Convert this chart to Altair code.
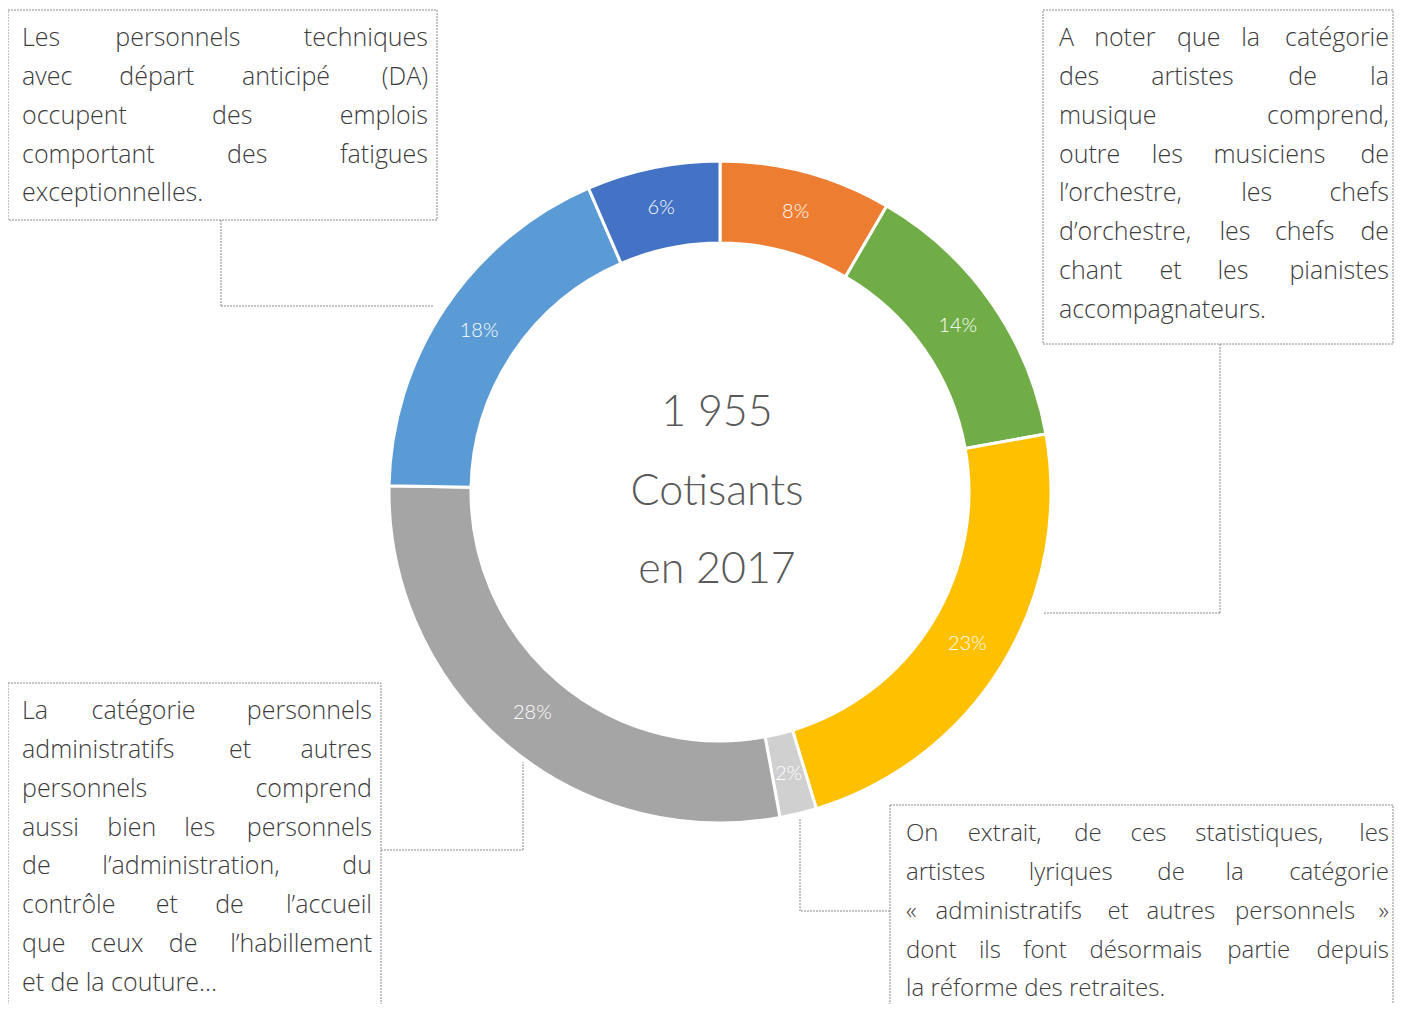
import altair as alt
import pandas as pd

# ---------------- data ----------------
categories = [
    "Artistes de la musique",
    "Artistes des chœurs",
    "Artistes de la danse",
    "Artistes lyriques",
    "Administratifs et autres personnels",
    "Personnels techniques",
    "Personnels techniques (DA)",
]
shares = [8.4, 13.8, 23.1, 1.8, 28.2, 18.2, 6.5]
share_labels = ["8%", "14%", "23%", "2%", "28%", "18%", "6%"]
colors = ["#ED7D31", "#70AD47", "#FFC000", "#D0D0D0", "#A5A5A5", "#5B9BD5", "#4472C4"]

center_lines = ["1 955", "Cotisants", "en 2017"]

note_tl = ["Les personnels techniques", "avec départ anticipé (DA)", "occupent des emplois",
           "comportant des fatigues", "exceptionnelles."]
note_tr = ["A noter que la catégorie", "des artistes de la", "musique comprend,",
           "outre les musiciens de", "l’orchestre, les chefs", "d’orchestre, les chefs de",
           "chant et les pianistes", "accompagnateurs."]
note_bl = ["La catégorie personnels", "administratifs et autres", "personnels comprend",
           "aussi bien les personnels", "de l’administration, du", "contrôle et de l’accueil",
           "que ceux de l’habillement", "et de la couture..."]
note_br = ["On extrait, de ces statistiques, les", "artistes lyriques de la catégorie",
           "« administratifs et autres personnels »", "dont ils font désormais partie depuis",
           "la réforme des retraites."]

# ---------------- layout (pixels, chart coordinates) ----------------
W, H = 1386, 996
CX, CY = 712, 484
R_OUT, R_IN, R_LBL = 331, 249, 290
FONT = "Lato"
NOTE_FONT = "Open Sans"
TXT = "#3c3c3c"
LH = 38.85

# note blocks: (lines, left, right, first baseline, font size)
blocks = [
    (note_tl, 14, 420, 38, 25),
    (note_tr, 1051, 1381, 38, 25),
    (note_bl, 14, 364, 711, 25),
    (note_br, 898, 1381, 833, 24),
]
boxes = pd.DataFrame({
    "x": [0, 1035, 0, 882],
    "x2": [429, 1385, 373, 1385],
    "y": [2, 2, 675, 797],
    "y2": [212, 336, 1030, 1030],
})
# connector segments
segs = pd.DataFrame({
    "x": [213, 213, 1212, 1212, 373, 515, 882, 792],
    "y": [212, 298, 336, 605, 842, 842, 903, 903],
    "x2": [213, 425, 1212, 1036, 515, 515, 792, 792],
    "y2": [298, 298, 605, 605, 842, 754, 903, 810],
})

# rough glyph widths (em) for Open Sans
CW = {" ": 0.26, "a": 0.556, "b": 0.613, "c": 0.48, "d": 0.613, "e": 0.561, "é": 0.561,
      "f": 0.336, "g": 0.546, "h": 0.614, "i": 0.258, "j": 0.258, "k": 0.525, "l": 0.258,
      "m": 0.932, "n": 0.614, "o": 0.602, "ô": 0.602, "p": 0.613, "q": 0.613, "r": 0.409,
      "s": 0.477, "t": 0.353, "u": 0.614, "v": 0.5, "w": 0.786, "x": 0.524, "y": 0.501,
      "z": 0.463, ".": 0.267, ",": 0.249, "’": 0.165, "(": 0.296, ")": 0.296, "«": 0.52,
      "»": 0.52, "A": 0.633, "D": 0.73, "L": 0.519, "O": 0.779}


def est(word, size):
    return sum(CW.get(c, 0.6) for c in word) * size


rows = []
for lines, L, R, b0, fs in blocks:
    for i, line in enumerate(lines):
        y = b0 + i * LH
        words = line.split(" ")
        if i == len(lines) - 1 or len(words) == 1:
            rows.append({"x": L, "y": y, "t": line, "a": "l", "fs": fs})
            continue
        total = sum(est(w, fs) for w in words)
        gap = (R - L - total) / (len(words) - 1)
        x = L
        for j, w in enumerate(words):
            if j == len(words) - 1:
                rows.append({"x": R, "y": y, "t": w, "a": "r", "fs": fs})
            else:
                rows.append({"x": x, "y": y, "t": w, "a": "l", "fs": fs})
            x += est(w, fs) + gap

words_df = pd.DataFrame(rows)

pie_df = pd.DataFrame({
    "cat": categories, "share": shares, "label": share_labels,
    "idx": list(range(len(categories))),
})
center_df = pd.DataFrame({"t": center_lines, "row": [0, 1, 2]})

X = lambda f: alt.X(f, type="quantitative", scale=None, axis=None)
Y = lambda f: alt.Y(f, type="quantitative", scale=None, axis=None)

color_scale = alt.Scale(domain=categories, range=colors)

arcs = alt.Chart(pie_df).mark_arc(
    radius=R_OUT, radius2=R_IN, stroke="white", strokeWidth=3
).encode(
    theta=alt.Theta("share:Q", stack=True),
    color=alt.Color("cat:N", scale=color_scale, legend=None),
    order=alt.Order("idx:Q"),
    x=alt.value(CX), y=alt.value(CY),
)

pct = alt.Chart(pie_df).mark_text(
    radius=R_LBL, font=FONT, fontWeight=300, fontSize=20, color="white",
    baseline="middle", align="center"
).encode(
    theta=alt.Theta("share:Q", stack=True),
    order=alt.Order("idx:Q"),
    text="label:N",
    x=alt.value(CX), y=alt.value(CY),
)

center = alt.Chart(center_df).mark_text(
    font=FONT, fontWeight=300, fontSize=43, color="#595959", baseline="middle", align="center"
).encode(
    text="t:N",
    x=alt.value(CX - 3),
    y=alt.Y("row:Q", scale=alt.Scale(domain=[0, 2], range=[405, 562]), axis=None),
)

box_layer = alt.Chart(boxes).mark_rect(
    fillOpacity=0, stroke="#8a8a8a", strokeWidth=1, strokeDash=[2, 1]
).encode(x=X("x"), x2="x2", y=Y("y"), y2="y2")

seg_layer = alt.Chart(segs).mark_rule(
    stroke="#8a8a8a", strokeWidth=1, strokeDash=[2, 1]
).encode(x=X("x"), x2="x2", y=Y("y"), y2="y2")


def word_layer(a, align):
    return alt.Chart(words_df[words_df["a"] == a]).mark_text(
        font=NOTE_FONT, fontWeight=300, color=TXT, align=align, baseline="alphabetic"
    ).encode(
        x=X("x"), y=Y("y"), text="t:N",
        size=alt.Size("fs:Q", scale=None, legend=None),
    )


chart = alt.layer(
    box_layer, seg_layer, arcs, pct, center, word_layer("l", "left"), word_layer("r", "right")
).properties(
    width=W, height=H, autosize=alt.AutoSizeParams(type="none"), padding=0,
    background="white",
).configure_view(stroke=None)

chart.save("out.html", embed_options={"renderer": "svg", "actions": False})
